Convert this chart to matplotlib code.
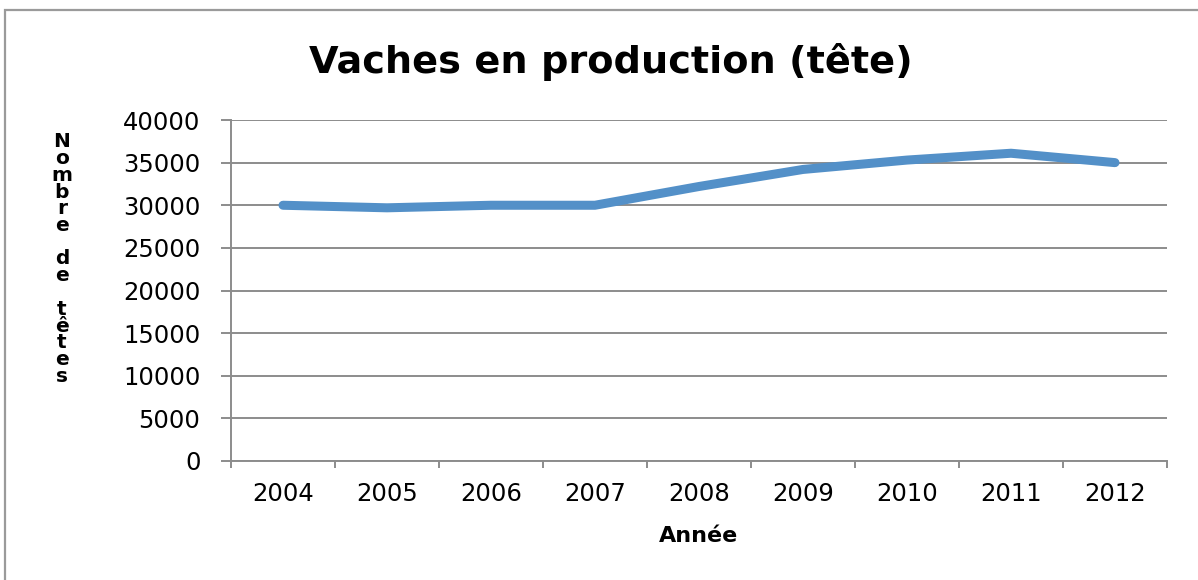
import matplotlib
matplotlib.use("Agg")
import matplotlib.pyplot as plt
from matplotlib.patches import Rectangle

years = ["2004", "2005", "2006", "2007", "2008", "2009", "2010", "2011", "2012"]
vaches = [30000, 29700, 30000, 30000, 32200, 34200, 35300, 36100, 35000]
yticks = [0, 5000, 10000, 15000, 20000, 25000, 30000, 35000, 40000]

title = "Vaches en production (tête)"
xlabel = "Année"
ylabel = "Nombre de têtes"

plt.rcParams['font.family'] = ['DejaVu Sans']

W, H = 1198, 580
fig = plt.figure(figsize=(W / 100, H / 100), dpi=100)

# outer frame
fig.patches.append(Rectangle((5 / W, -0.05), 1.2, 1 - 10 / H + 0.05,
                             transform=fig.transFigure, fill=False,
                             edgecolor='#9a9a9a', linewidth=1.6))

ax = fig.add_axes([231 / W, 1 - 461 / H, (1167 - 231) / W, (461 - 120) / H])

x = list(range(len(years)))
ax.plot(x, vaches, color='#5390C8', linewidth=6.5, solid_capstyle='round',
        solid_joinstyle='round', zorder=3)

grid_c = '#8c8c8c'
ax.set_ylim(0, 40000)
ax.set_yticks(yticks)
ax.set_yticklabels([str(v) for v in yticks])
ax.yaxis.grid(True, color=grid_c, linewidth=1.4)
ax.set_axisbelow(True)

ax.set_xlim(-0.5, len(years) - 0.5)
ax.set_xticks([i - 0.5 for i in range(len(years) + 1)])
ax.set_xticklabels([])
ax.set_xticks(x, minor=True)
ax.set_xticklabels(years, minor=True)

for s in ['top', 'right']:
    ax.spines[s].set_visible(False)
for s in ['left', 'bottom']:
    ax.spines[s].set_color(grid_c)
    ax.spines[s].set_linewidth(1.4)

ax.tick_params(axis='y', which='major', length=7, width=1.4, color=grid_c,
               labelsize=17.5, pad=15, labelcolor='black')
ax.tick_params(axis='x', which='major', length=5, width=1.4, color=grid_c)
ax.tick_params(axis='x', which='minor', length=0, labelsize=17.5, pad=15,
               labelcolor='black')

ax.set_xlabel(xlabel, fontsize=16, fontweight='bold')
ax.xaxis.set_label_coords(0.5, -0.19)
ax.xaxis.label.set_va('top')

ax.set_ylabel("\n".join(ylabel), rotation=0, fontsize=14.5, fontweight='bold',
              linespacing=0.85, ha='center', va='center')
ax.yaxis.set_label_coords((62 - 231) / (1167 - 231), (461 - 259) / (461 - 120))

fig.text(611 / W, 1 - 62 / H, title, fontsize=27.5, fontweight='bold',
         ha='center', va='center')

fig.savefig("out.png", dpi=100)
